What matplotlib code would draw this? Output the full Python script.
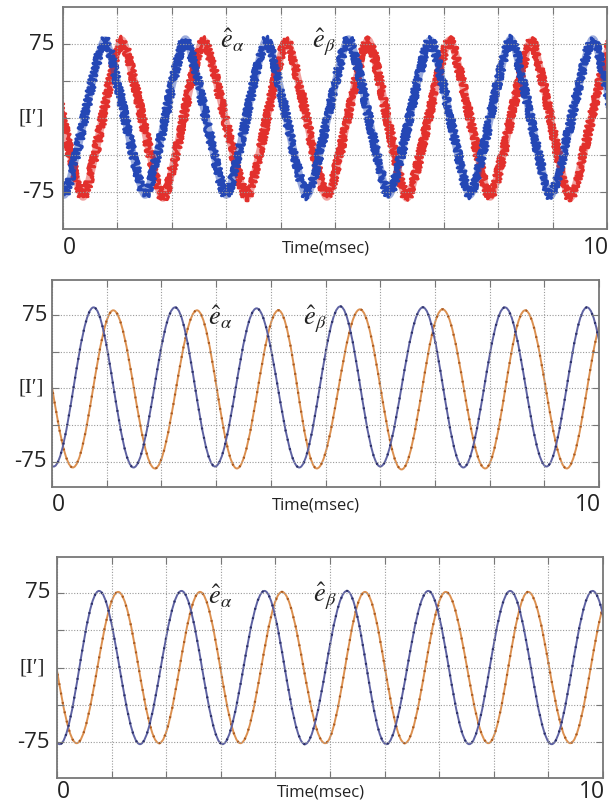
import matplotlib
matplotlib.use('Agg')
import matplotlib.pyplot as plt
from matplotlib.path import Path
from matplotlib.patches import PathPatch

plt.rcParams['mathtext.fontset'] = 'stix'

# Extremum times (msec) and values, alternating peak / trough
# Panel 1 (noisy estimate)
p1_blue_t = [-0.73, 0.02, 0.77, 1.51, 2.25, 3.00, 3.74, 4.48, 5.25, 5.99, 6.75, 7.48, 8.23, 8.96, 9.74, 10.48]
p1_blue_v = [79, -78, 79, -78, 80, -78, 79, -79, 80, -78, 79, -78, 80, -79, 80, -78]
p1_red_t = [-0.38, 0.37, 1.08, 1.84, 2.58, 3.38, 4.11, 4.85, 5.61, 6.32, 7.11, 7.85, 8.61, 9.32, 10.10]
p1_red_v = [79, -80, 79, -81, 79, -80, 78, -80, 79, -81, 79, -80, 78, -81, 79]

# Panel 2
p2_blue_t = [-0.73, 0.03, 0.76, 1.49, 2.25, 2.98, 3.74, 4.52, 5.27, 6.00, 6.78, 7.52, 8.28, 9.04, 9.78, 10.52]
p2_blue_v = [82, -80, 83, -81, 83, -80, 82, -81, 84, -80, 83, -81, 83, -80, 83, -80]
p2_orng_t = [-0.37, 0.38, 1.12, 1.88, 2.65, 3.38, 4.14, 4.84, 5.63, 6.39, 7.14, 7.92, 8.65, 9.41, 10.15]
p2_orng_v = [80, -81, 80, -82, 80, -82, 80, -82, 81, -83, 81, -82, 80, -82, 80]

# Panel 3
p3_blue_t = [-0.70, 0.05, 0.77, 1.52, 2.28, 3.03, 3.80, 4.54, 5.31, 6.03, 6.80, 7.55, 8.30, 9.06, 9.81, 10.55]
p3_blue_v = [77, -77, 77, -77, 77, -77, 77, -77, 77, -77, 77, -77, 77, -77, 77, -77]
p3_orng_t = [-0.38, 0.36, 1.12, 1.87, 2.62, 3.36, 4.12, 4.91, 5.64, 6.37, 7.12, 7.90, 8.63, 9.40, 10.15]
p3_orng_v = [76, -76, 76, -76, 76, -76, 76, -76, 76, -76, 76, -76, 76, -76, 76]

grid_y = [-75, -37.5, 0, 37.5, 75]
grid_x = list(range(0, 11))


def wave_path(times, values, k):
    # smooth curve between successive extrema (bezier with flat tangents)
    verts = [(times[0], values[0])]
    codes = [Path.MOVETO]
    for i in range(len(times) - 1):
        t0, v0, t1, v1 = times[i], values[i], times[i + 1], values[i + 1]
        dt = t1 - t0
        verts += [(t0 + k * dt, v0), (t1 - k * dt, v1), (t1, v1)]
        codes += [Path.CURVE4] * 3
    return Path(verts, codes)


def style_axes(ax, ylim, pad_lab, ylab_x, xlab_y=-0.03):
    ax.set_xlim(0, 10)
    ax.set_ylim(*ylim)
    ax.set_xticks(grid_x)
    ax.set_yticks(grid_y)
    ax.grid(True, color='#9a9a9a', linestyle=(0, (1, 1.5)), linewidth=0.8)
    ax.tick_params(direction='in', length=5, color='#777777', top=True, right=True,
                   labelbottom=False, labelleft=False)
    for sp in ax.spines.values():
        sp.set_color('#777777')
        sp.set_linewidth(1.3)
    num_font = dict(family='Open Sans', color='#222222')
    ax.text(-pad_lab, 75, '75', ha='right', va='center', fontsize=16,
            transform=ax.get_yaxis_transform(), **num_font)
    ax.text(-pad_lab, -75, '-75', ha='right', va='center', fontsize=16,
            transform=ax.get_yaxis_transform(), **num_font)
    ax.text(ylab_x, 0, '[I′]', ha='right', va='center', transform=ax.get_yaxis_transform(),
            family=['Liberation Serif', 'DejaVu Serif'], fontsize=15, color='#222222')
    ax.text(0, xlab_y, '0', ha='left', va='top', fontsize=16.5, transform=ax.transAxes, **num_font)
    ax.text(1.003, xlab_y, '10', ha='right', va='top', fontsize=16.5, transform=ax.transAxes, **num_font)
    ax.text(0.483, xlab_y - 0.02, 'Time(msec)', ha='center', va='top', transform=ax.transAxes,
            family='Open Sans', fontsize=12, color='#222222')


fig = plt.figure(figsize=(6.15, 8.07), dpi=100)
ax1 = fig.add_axes([0.1024, 0.7162, 0.8846, 0.2751])
ax2 = fig.add_axes([0.0846, 0.3965, 0.8894, 0.2565])
ax3 = fig.add_axes([0.0927, 0.0359, 0.8878, 0.2738])

# Panel 1: noisy estimates (noise shown with a sketch effect on a wide band)
style_axes(ax1, (-112.5, 112.5), 0.015, -0.035)
for t, v, c in [(p1_red_t, p1_red_v, '#e2302c'), (p1_blue_t, p1_blue_v, '#2447b5')]:
    halo = PathPatch(wave_path(t, v, 0.18), facecolor='none', edgecolor=c, lw=5.5,
                     alpha=0.45, joinstyle='round')
    ax1.add_patch(halo)
    core = PathPatch(wave_path(t, v, 0.18), facecolor='none', edgecolor=c, lw=2.2,
                     joinstyle='round', capstyle='round')
    core.set_sketch_params(scale=4, length=1.2, randomness=4)
    ax1.add_patch(core)
ax1.text(2.89, 71, r'$\hat{e}_{\alpha}$', fontsize=19, color='#222222')
ax1.text(4.58, 71, r'$\hat{e}_{\beta}$', fontsize=19, color='#222222')

# Panels 2 and 3: filtered estimates
for ax, bt, bv, ot, ov, ylim, pad, ylx, xly, ea, eb in [
        (ax2, p2_blue_t, p2_blue_v, p2_orng_t, p2_orng_v, (-101, 111), 0.009, -0.015, -0.03,
         (2.85, 65), (4.59, 65)),
        (ax3, p3_blue_t, p3_blue_v, p3_orng_t, p3_orng_v, (-111, 111), 0.013, -0.022, -0.01,
         (2.77, 63), (4.69, 65))]:
    style_axes(ax, ylim, pad, ylx, xly)
    for t, v, c, cd in [(ot, ov, '#dc9050', '#a8581e'), (bt, bv, '#5e62a2', '#2a2e66')]:
        ax.add_patch(PathPatch(wave_path(t, v, 0.36), facecolor='none', edgecolor=c, lw=1.4))
        ax.add_patch(PathPatch(wave_path(t, v, 0.36), facecolor='none', edgecolor=cd, lw=1.6,
                               linestyle=(0, (0.8, 3.5))))
    ax.text(ea[0], ea[1], r'$\hat{e}_{\alpha}$', fontsize=19, color='#222222')
    ax.text(eb[0], eb[1], r'$\hat{e}_{\beta}$', fontsize=19, color='#222222')

fig.savefig('out.png', dpi=100)
